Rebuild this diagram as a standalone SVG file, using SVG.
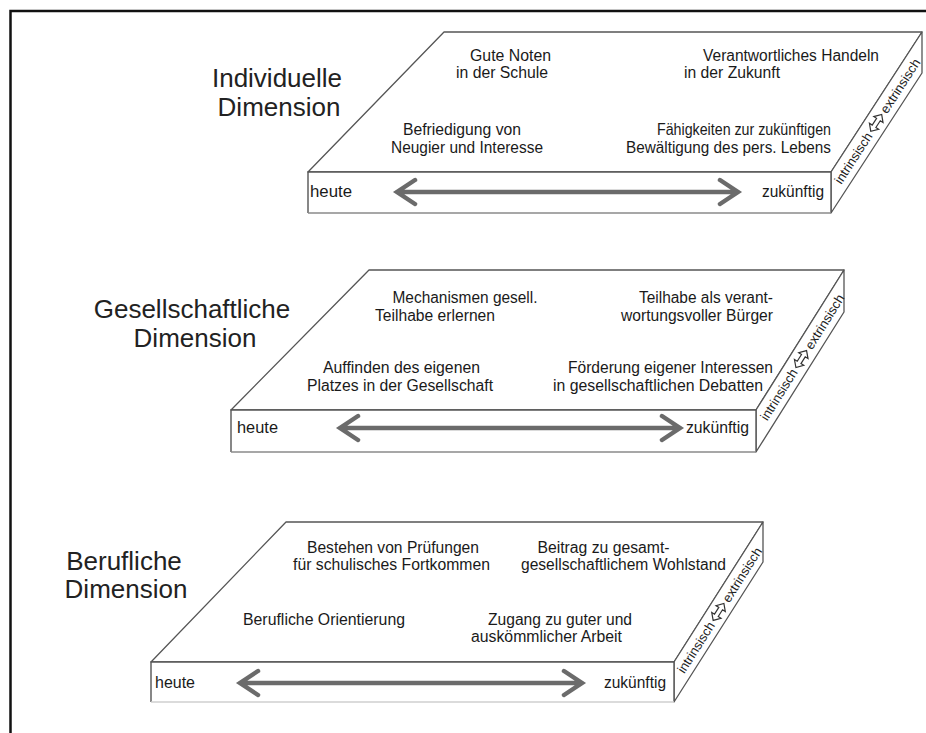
<svg xmlns="http://www.w3.org/2000/svg" width="926" height="733" viewBox="0 0 926 733">
  <style>
    .edge { fill: #ffffff; stroke: #555555; stroke-width: 1.3; stroke-linejoin: round; }
    .front { fill: #ffffff; stroke: #555555; stroke-width: 1.4; }
    .base { fill: none; stroke: #8a8a8a; stroke-width: 1.3; }
    .faint { fill: none; stroke: #cfcfcf; stroke-width: 1.3; }
    .title { font-family: "Liberation Sans", Arial, sans-serif; font-size: 26px; fill: #222222; text-anchor: middle; }
    .lbl { font-family: "Liberation Sans", Arial, sans-serif; font-size: 16px; fill: #1a1a1a; }
    .side { font-family: "Liberation Sans", Arial, sans-serif; font-size: 13px; fill: #222222; }
    .dbl { fill: #ffffff; stroke: #333333; stroke-width: 1.2; stroke-linejoin: miter; }
    .axis { fill: none; stroke: #6b6b6b; stroke-width: 4.5; stroke-linecap: round; stroke-linejoin: miter; }
  </style>
  <defs>
    <!-- hollow two-headed arrow used on the side faces -->
    <polygon id="twoway" class="dbl" points="0,0 6,-5.5 6,-2.2 14,-2.2 14,-5.5 20,0 14,5.5 14,2.2 6,2.2 6,5.5"/>
  </defs>

  <rect width="926" height="733" fill="#ffffff"/>
  <!-- page frame (open to the right and bottom) -->
  <path d="M10.5,733 V11 H926" fill="none" stroke="#111111" stroke-width="2.5"/>

  <!-- Individuelle Dimension -->
  <g id="individuell">
    <polygon class="edge" points="444,32 922,32 831,172 308,172"/>
    <polygon class="edge" points="831,172 922,32 922,73 831,213"/>
    <path class="front" d="M308,213 V172 H831 V213"/>
    <path class="base" d="M308,213 H831"/>
    <text class="title" x="277" y="87">Individuelle</text>
    <text class="title" x="279" y="116">Dimension</text>
    <text class="lbl" x="470" y="61" textLength="81" lengthAdjust="spacingAndGlyphs">Gute Noten</text>
    <text class="lbl" x="456" y="78" textLength="92" lengthAdjust="spacingAndGlyphs">in der Schule</text>
    <text class="lbl" x="703" y="61" textLength="176" lengthAdjust="spacingAndGlyphs">Verantwortliches Handeln</text>
    <text class="lbl" x="684" y="78" textLength="96" lengthAdjust="spacingAndGlyphs">in der Zukunft</text>
    <text class="lbl" x="403" y="135" textLength="118" lengthAdjust="spacingAndGlyphs">Befriedigung von</text>
    <text class="lbl" x="391" y="153" textLength="152" lengthAdjust="spacingAndGlyphs">Neugier und Interesse</text>
    <text class="lbl" x="657" y="135" textLength="174" lengthAdjust="spacingAndGlyphs">Fähigkeiten zur zukünftigen</text>
    <text class="lbl" x="626" y="153" textLength="205" lengthAdjust="spacingAndGlyphs">Bewältigung des pers. Lebens</text>
    <text class="lbl" x="310" y="197" textLength="42" lengthAdjust="spacingAndGlyphs">heute</text>
    <text class="lbl" x="762" y="197" textLength="62" lengthAdjust="spacingAndGlyphs">zukünftig</text>
    <g transform="translate(831,192.5) rotate(-56.98)">
      <text class="side" x="12" y="4.5" textLength="58" lengthAdjust="spacingAndGlyphs">intrinsisch</text>
      <use href="#twoway" x="73" y="0"/>
      <text class="side" x="96" y="4.5" textLength="62" lengthAdjust="spacingAndGlyphs">extrinsisch</text>
    </g>
  </g>

  <!-- Gesellschaftliche Dimension -->
  <g id="gesellschaftlich">
    <polygon class="edge" points="369,270 844,270 756,410 231,410"/>
    <polygon class="edge" points="756,410 844,270 844,312 756,452"/>
    <path class="front" d="M231,452 V410 H756 V452"/>
    <path class="base" d="M231,452 H756"/>
    <text class="title" x="192" y="318">Gesellschaftliche</text>
    <text class="title" x="195" y="347">Dimension</text>
    <text class="lbl" x="392.5" y="303" textLength="145" lengthAdjust="spacingAndGlyphs">Mechanismen gesell.</text>
    <text class="lbl" x="375" y="321" textLength="120" lengthAdjust="spacingAndGlyphs">Teilhabe erlernen</text>
    <text class="lbl" x="639" y="303" textLength="134" lengthAdjust="spacingAndGlyphs">Teilhabe als verant-</text>
    <text class="lbl" x="621" y="321" textLength="152" lengthAdjust="spacingAndGlyphs">wortungsvoller Bürger</text>
    <text class="lbl" x="323" y="373" textLength="157" lengthAdjust="spacingAndGlyphs">Auffinden des eigenen</text>
    <text class="lbl" x="307" y="391" textLength="186" lengthAdjust="spacingAndGlyphs">Platzes in der Gesellschaft</text>
    <text class="lbl" x="568" y="373" textLength="205" lengthAdjust="spacingAndGlyphs">Förderung eigener Interessen</text>
    <text class="lbl" x="553" y="391" textLength="210" lengthAdjust="spacingAndGlyphs">in gesellschaftlichen Debatten</text>
    <text class="lbl" x="237" y="433" textLength="41" lengthAdjust="spacingAndGlyphs">heute</text>
    <text class="lbl" x="686" y="433" textLength="63" lengthAdjust="spacingAndGlyphs">zukünftig</text>
    <g transform="translate(756,431) rotate(-57.85)">
      <text class="side" x="14" y="4.5" textLength="58" lengthAdjust="spacingAndGlyphs">intrinsisch</text>
      <use href="#twoway" x="75" y="0"/>
      <text class="side" x="98" y="4.5" textLength="62" lengthAdjust="spacingAndGlyphs">extrinsisch</text>
    </g>
  </g>

  <!-- Berufliche Dimension -->
  <g id="beruflich">
    <polygon class="edge" points="286,522 763,522 674,662 151,662"/>
    <polygon class="edge" points="674,662 763,522 763,562 674,702"/>
    <path class="front" d="M151,702 V662 H674 V702"/>
    <path class="faint" d="M151,702 H674"/>
    <text class="title" x="124" y="570">Berufliche</text>
    <text class="title" x="126" y="598">Dimension</text>
    <text class="lbl" x="307" y="553" textLength="172" lengthAdjust="spacingAndGlyphs">Bestehen von Prüfungen</text>
    <text class="lbl" x="293" y="570" textLength="197" lengthAdjust="spacingAndGlyphs">für schulisches Fortkommen</text>
    <text class="lbl" x="537.5" y="553" textLength="132" lengthAdjust="spacingAndGlyphs">Beitrag zu gesamt-</text>
    <text class="lbl" x="521" y="570" textLength="205" lengthAdjust="spacingAndGlyphs">gesellschaftlichem Wohlstand</text>
    <text class="lbl" x="243" y="625" textLength="162" lengthAdjust="spacingAndGlyphs">Berufliche Orientierung</text>
    <text class="lbl" x="488" y="625" textLength="144" lengthAdjust="spacingAndGlyphs">Zugang zu guter und</text>
    <text class="lbl" x="471" y="642" textLength="151" lengthAdjust="spacingAndGlyphs">auskömmlicher Arbeit</text>
    <text class="lbl" x="155" y="688" textLength="40" lengthAdjust="spacingAndGlyphs">heute</text>
    <text class="lbl" x="604" y="688" textLength="62" lengthAdjust="spacingAndGlyphs">zukünftig</text>
    <g transform="translate(674,682) rotate(-57.56)">
      <text class="side" x="12" y="4.5" textLength="58" lengthAdjust="spacingAndGlyphs">intrinsisch</text>
      <use href="#twoway" x="73" y="0"/>
      <text class="side" x="96" y="4.5" textLength="62" lengthAdjust="spacingAndGlyphs">extrinsisch</text>
    </g>
  </g>

  <!-- heute / zukünftig time axes -->
  <g id="connectors">
    <path class="axis" d="M397,192 H738 M415,180 L397,192 L415,204 M720,180 L738,192 L720,204"/>
    <path class="axis" d="M340,428 H680 M358,416 L340,428 L358,440 M662,416 L680,428 L662,440"/>
    <path class="axis" d="M240,683 H582 M258,671 L240,683 L258,695 M564,671 L582,683 L564,695"/>
  </g>
</svg>
